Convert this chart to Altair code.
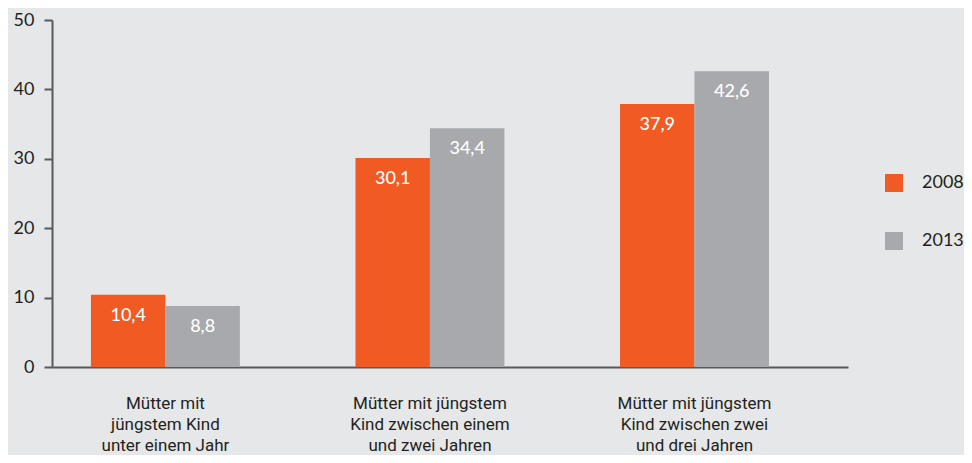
import altair as alt
import pandas as pd

categories = [
    "Mütter mit|jüngstem Kind|unter einem Jahr",
    "Mütter mit jüngstem|Kind zwischen einem|und zwei Jahren",
    "Mütter mit jüngstem|Kind zwischen zwei|und drei Jahren",
]
years = ["2008", "2013"]
values_2008 = [10.4, 30.1, 37.9]
values_2013 = [8.8, 34.4, 42.6]

rows = []
for c, v in zip(categories, values_2008):
    rows.append({"cat": c, "year": "2008", "value": v})
for c, v in zip(categories, values_2013):
    rows.append({"cat": c, "year": "2013", "value": v})
df = pd.DataFrame(rows)

FONT = "Lato, Roboto, sans-serif"
NARROW = "Liberation Sans Narrow, Roboto, sans-serif"
ORANGE = "#F15A22"
GRAY = "#A7A9AC"
BG = "#E6E7E8"

x = alt.X(
    "cat:N",
    sort=categories,
    title=None,
    scale=alt.Scale(paddingInner=0.437, paddingOuter=0.223, align=0.33),
    axis=alt.Axis(
        labelExpr="split(datum.label, '|')",
        labelAngle=0,
        ticks=False,
        domain=True,
        domainColor="#58595B",
        domainWidth=2,
        labelPadding=36,
        labelFont=NARROW,
        labelFontSize=17,
        labelColor="#231F20",
        labelLineHeight=21,
        labelBaseline="middle",
    ),
)

base = alt.Chart(df).encode(
    x=x,
    xOffset=alt.XOffset("year:N", sort=years, scale=alt.Scale(paddingInner=0, paddingOuter=0)),
)

bars = base.mark_bar().encode(
    y=alt.Y(
        "value:Q",
        title=None,
        scale=alt.Scale(domain=[0, 50], nice=False),
        axis=alt.Axis(
            values=[0, 10, 20, 30, 40, 50],
            grid=False,
            tickSize=8,
            tickColor="#58595B",
            tickWidth=2,
            domainColor="#58595B",
            domainWidth=2,
            labelFont=FONT,
            labelFontSize=18,
            labelColor="#231F20",
            labelPadding=10,
        ),
    ),
    color=alt.Color(
        "year:N",
        sort=years,
        scale=alt.Scale(domain=years, range=[ORANGE, GRAY]),
        legend=alt.Legend(
            title=None,
            orient="none",
            legendX=833,
            legendY=154,
            symbolType="square",
            symbolSize=324,
            symbolStrokeWidth=0,
            labelFont=FONT,
            labelFontSize=18,
            labelColor="#231F20",
            labelOffset=19,
            rowPadding=40,
        ),
    ),
)

labels = base.mark_text(
    color="white", font=FONT, fontSize=18, fontWeight=500, baseline="middle", dy=21
).encode(
    y="value:Q",
    text="lab:N",
).transform_calculate(lab="replace(format(datum.value, '.1f'), '.', ',')")

chart = (
    alt.layer(bars, labels)
    .properties(
        width=796,
        height=347,
        background=BG,
        padding={"left": 44, "top": 12, "right": 116, "bottom": 88},
        autosize=alt.AutoSizeParams(type="none"),
    )
    .configure_view(stroke=None)
)

chart.save("out.html", embed_options={"renderer": "svg", "actions": False})
